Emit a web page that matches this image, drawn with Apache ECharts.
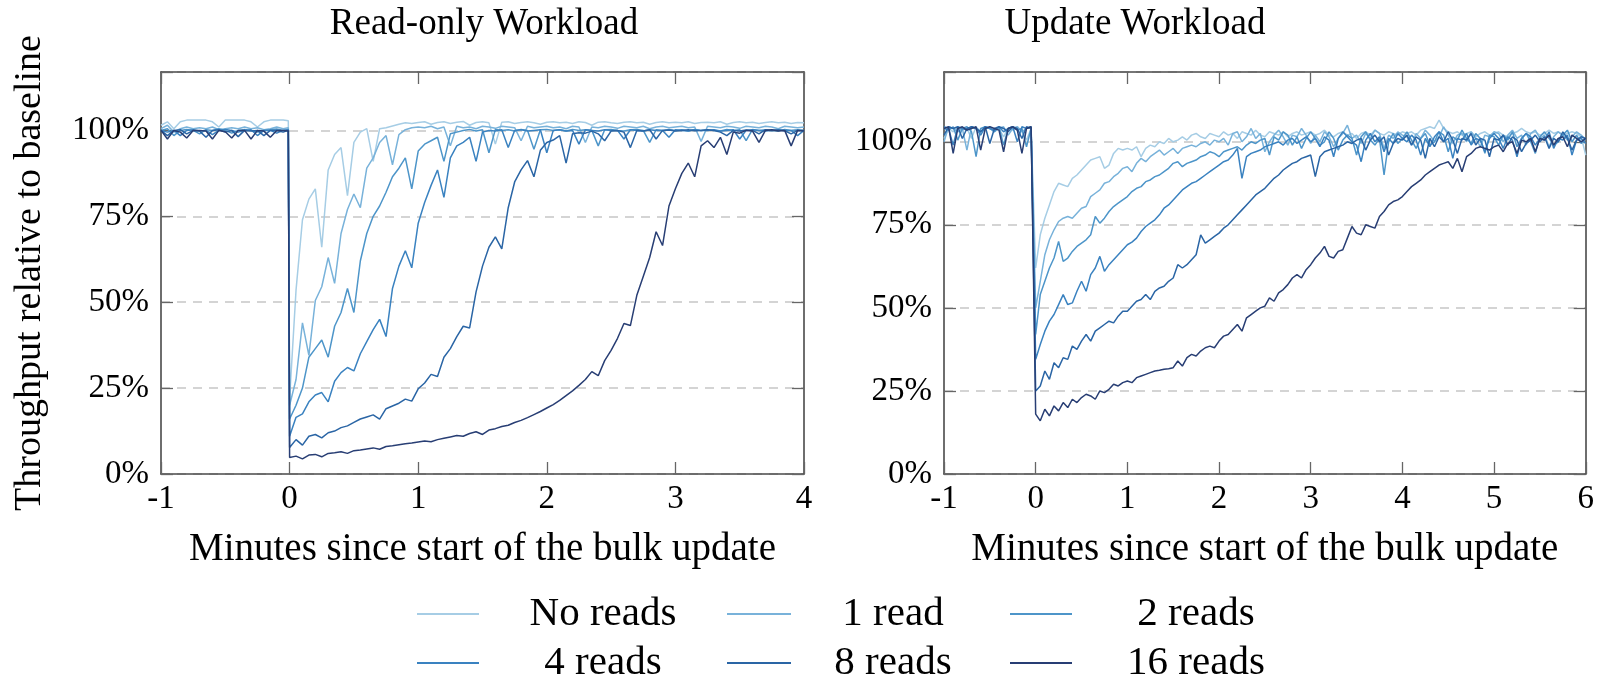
<!DOCTYPE html>
<html>
<head>
<meta charset="utf-8">
<script src="https://cdn.jsdelivr.net/npm/echarts@6/dist/echarts.min.js"></script>
<style>
html,body{margin:0;padding:0;background:#fff;}
#chart{width:1597px;height:678px;}
</style>
</head>
<body>
<div id="chart"></div>
<script>
// ---------------- DATA ----------------
const seriesNames = ['No reads', '1 read', '2 reads', '4 reads', '8 reads', '16 reads'];
const seriesColors = ['#a6cde5', '#78b2da', '#4d95c9', '#3a82c0', '#2a65a5', '#283e74'];
const panelTitles = ['Read-only Workload', 'Update Workload'];
const xAxisTitle = 'Minutes since start of the bulk update';
const yAxisTitle = 'Throughput relative to baseline';
const yTicks = [0, 25, 50, 75, 100];

// sample times (minutes); left panel has an extra sample just before the bulk update starts
const leftTimes = [];
for (let i = 0; i < 20; i++) leftTimes.push(+(-1 + i * 0.05).toFixed(2));
leftTimes.push(-0.01);
for (let i = 0; i <= 80; i++) leftTimes.push(+(i * 0.05).toFixed(2));
const rightTimes = [];
for (let i = 0; i < 20; i++) rightTimes.push(+(-1 + i * 0.05).toFixed(2));
for (let i = 0; i <= 120; i++) rightTimes.push(+(i * 0.05).toFixed(2));

// Read-only workload (% of baseline)
const roNone = [
101.5,102.5,100.5,102.5,103,103,103,103,102.5,101,103,103,103,103,102.5,101,102.5,103,103,103,102.8,
22,53.5,74,80,83,66,88.5,93,95,81,96.5,99.5,100.5,91,100.5,100.8,101.3,101.8,102.2,102,102.3,
102.5,101.8,102.3,102.5,102,102.4,102.6,101.5,102.3,102.5,102.2,96,102.4,102.5,102,102.3,102.5,102.2,101.8,102.4,
102.5,102.2,102.4,102,102.5,102.3,101.5,102.4,102.5,102.2,102,102.4,102.5,102.2,102.4,101.8,102.3,102.5,102.2,102.4,
102.2,102.5,102,102.3,102.4,102.2,102.5,101.8,102.3,102.5,102.2,102.4,102,102.3,102.5,102.2,102.4,102,102.3,102.2];
const roOne = [
100.5,101.5,99.5,100.5,101,100.5,100.8,100.5,101,100.2,100.5,100.8,100.5,101,100.5,100.8,100.2,100.5,101,100.5,100.8,
20,27.5,44,34.5,50.5,54.5,63,55.5,70,77,81.5,77.5,89,92,96.5,98.5,90,98.8,100.2,100.8,101,
100.8,101.2,100.5,101,95.5,101.2,100.8,101,100.5,101.2,101,100.6,101.2,101,100.8,97,101.2,100.8,101,101.2,
100.8,101,100.5,101.2,101,96.5,101,100.8,101.2,101,100.6,101.2,101,100.8,101.2,100.5,101,101.2,100.8,101,
101.2,100.8,101,96.8,101.2,101,100.8,101.2,101,100.6,101.2,101,100.8,101.2,101,100.5,101.2,101,100.8,101];
const roTwo = [
100,100.5,98.5,100,100.3,100,99,100.2,100,100.5,100,99.2,100,100.3,100,99.5,100,100.2,100.4,100,100.3,
16,20,25,34,36.5,39,34,43,47,54,47,62,70,75,78,82,86.5,89,92,83,94,
96,97,98,91,99,99.5,100,100.3,99.8,100.2,93.5,100.3,100,100.2,99.8,100.3,100,94.5,100.2,100.3,
100,100.2,99.8,100.3,100,100.2,100,95.5,100.2,100.3,100,99.8,100.2,100.3,100,96.5,100.2,100,100.3,100,
100.2,99.8,100.3,100,100.2,100,99.8,100.3,100,100.2,97,100.3,100,100.2,100,99.8,100.3,100,100.2,100];
const roFour = [
100,99.5,100,98.5,100,100.2,99.8,100,98.8,100,100.3,100,99.5,100,100.2,98.5,100,100,99.2,100,100.2,
11,16.5,17.5,21,23,23.7,21,27,29.5,31,30,35,38.5,42,45,40,54,60.5,65,60,73,
79,84,88.5,80.5,92,95.5,96.5,98,91,99.5,100,99.8,100.2,95,100,100.2,99.8,100,100.2,93.5,
100,100.2,99.8,100,96,100.2,100,99.8,100.2,100,100,97.5,100.2,100,99.8,100.2,100,100,98,100.2,
100,99.8,100.2,100,100,100.2,99.8,100,100.2,97.5,100,100.2,100,99.8,100,100.2,100,100,98.5,100];
const roEight = [
100,98.5,100,100.2,99,100,99.8,98,100,100.2,99.5,100,98.2,100,99.8,100,98.5,100,100,99.5,100,
7.7,10,8.4,11,11.5,10.5,12,12.5,13.5,14,15,16,16.6,17.2,16,19,19.8,20.6,21.8,21.2,24.8,
26.5,29,28.4,34,36.5,40,43,42.5,53,60.5,66,69,65.5,77.5,85,88.5,91.2,86.5,94.2,96.5,
97.2,98.5,90.5,99,99.3,99.2,99.8,99,97,99.8,100,99.5,95,100,99.8,100.2,97.5,100,100.1,99.8,
100,100.2,99.9,100,100.2,100,99.5,98.5,100,99.8,100.1,100,99,100.2,100,100.1,99.9,99,100,100];
const roSixteen = [
100,97.5,100,99.5,97.8,100,100,99.8,97.5,100,99.6,97.8,100,100,97.5,100,99.8,98,100,100,99.8,
4.8,5.2,4.4,5.5,5.7,5,6,6.2,6.5,6,6.8,7,7.3,7.6,7.2,8,8.2,8.5,8.8,9,9.3,
9.6,9.4,10,10.4,10.8,11.2,11,11.8,12.3,11.5,12.8,13.2,13.8,14.2,15,15.6,16.4,17.3,18.2,19.2,
20.2,21.4,22.8,24.2,25.8,27.5,29.8,28.6,33,36,39.5,43.8,43.2,52,57.5,63,70.5,66.5,78,83,
87.5,90.5,86.5,95.5,97,95,98,93,99.5,99.2,100,99.8,96.5,100,100.2,99.8,100,95.5,100,99.8];

// Update workload (% of baseline)
const upNone = [
101,104,103,104.5,103.5,104,101,104.5,103,104,104.5,103,104,101.5,104,103.5,104.5,103,100.5,104,
62,72,77,81,85,87.5,87,86.5,89,90,91.5,93,94.5,95,95.5,92,93,96.5,98,97.5,98,
97.5,98.5,95.5,98,99,98.5,100,99.5,101,100,100.5,101.5,100.5,102,102.5,101.5,101,102.5,102,101.5,
103,102,102.5,101,103,102.5,102,103.5,102,101.5,103,102.5,102,103,101.5,102.5,103,102,102.5,103,
102,102.5,103.5,102,101.5,102.5,103,102,102.5,101,102.5,103,102,103.5,102.5,102,103,102.5,102,103,
102.5,103,102,103.5,104,104.5,104,106.5,104,103,102.5,103,102,102.5,103,101.5,102.5,103,102,102.5,
103,102,101.5,102.5,103,104,103,102.5,103,102,102.5,103.5,102.5,103,102,102.5,103,102.5,101.5,96];
const upOne = [
100,104.5,104,103,104,97.5,104.5,104,103,104.5,104,103.5,104,104.5,102,104,104.5,103,104,104.5,
50,58,66,70.5,73.5,76,77,77.5,77,78.5,80,80.5,83.5,84.5,85.5,87.5,88,89.5,90.5,92,92.5,
91,93.5,95,94,95.5,96.5,97.5,96,97,98,96.5,98,98.5,99,98.5,99.5,100,99,100.5,100,
101,99,102.5,103,100,101.5,104,101,102.5,97,100,102,103.5,101.5,99,102,101.5,104,102,99.5,
102,100,103,101.5,98.5,101,102.5,105,101,102,99.5,102.5,101,103.5,102.5,98,102,101,103,102,
101.5,99,102.5,101,103.5,102,100,101.5,104.5,102,99.5,102,102.5,100,103,101,98.5,102,101.5,103,
102.5,100,102,103.5,101,102,99,102.5,103.5,101,102,98.5,101.5,103,102,100.5,101.5,103,102,100.5];
const upTwo = [
104,103.5,104.5,100.5,104,104.5,103,95.5,104,104.5,104,103,104.5,99,104,104.5,103.5,104,98.5,104,
42,54,58,62,65,70,64,65,67,68.5,69.5,70.5,72,77.5,75.5,77,79,80.5,81.5,82.5,83.5,
85,86,86.5,88,88.5,89.5,90,91,92,93.5,94,92.5,93.5,94,94.5,95.5,96,97,96.5,95.5,
97,97.5,98,98.5,97.5,99,100,99.5,100.5,101,96,101.5,100.5,103,102,99,101.5,98,101,103,
101,99,100,103,101,97.5,100.5,102,101,96,101.5,103,100.5,99,101,90,100,102.5,99.5,101,
103,100.5,98,101,102.5,99,100,103,102,97,101.5,100.5,103.5,101,99.5,102.5,101,96.5,102,101.5,
99,102,100.5,103,98.5,101,102.5,100,96.5,101.5,103,101,99,100,102,103.5,100,102,99.5,101];
const upFour = [
104.5,104,99,104.5,104,103.5,104.5,104,102,104.5,104,103.5,104.5,103,104,104.5,100,104.5,104,104.5,
34.5,39,43,46,48,51,54,51,51.5,55,58,55,60,62,65.5,61,63,64.5,66,67.5,69,
69.8,71,73,74.5,75.5,76.5,78,80,81,82.5,84,85.5,86.5,87.5,88,89,90,91,92,93,
94,94.5,96,98,89,95.5,96.5,97,97.5,98.5,99,99.5,100,99,100.5,101,99.5,100.5,101.5,100,
101,98.5,101.5,100.5,95.5,101,103,101.5,100,99,94,100.5,102.5,100,101.5,97,101,99.5,102.5,101,
100,102,100.5,96,101,98.5,101.5,103,100,101,95,101,100.5,102.5,99,101,100.5,97,101,102.5,
101,98,101.5,100.5,95.5,101,102.5,101.5,99,101,100.5,103,98,101,100.5,102,96,100.5,101,99.5];
const upEight = [
102,104.5,104,104.5,101,104,104.5,104,103,104.5,99.5,104,104.5,104,103,104.5,104,101,104.5,104,
25,26.5,31,28.5,33.5,32,35,34.5,38.5,37.5,40,42,40,43,44,45,46,45.5,47.5,49,49,
50.5,52,52.5,54,52.5,55,56,56.5,58,59,63,62,63,64.5,66,72,69.5,70.5,71.5,72.5,
74,75,76.5,78,79.5,81,82.5,84,85,86,87.5,89,90,91.5,92.5,93.5,94,95,95.5,96,
89.5,95.5,97,97.5,98,98.5,99,100,99.5,100.5,101,97.5,100.5,102,100,101.5,96,99.5,101,100.5,
102,99,101.5,100.5,95,101,98.5,101.5,100,103,100.5,96.5,101,100.5,102.5,99,101,100.5,95.5,101,
100.5,102,99,101.5,100.5,97,99.5,100.5,102,100,101.5,98,101,100,103,101,97.5,100.5,101.5,101];
const upSixteen = [
104,104.5,96.5,104,104.5,103.5,104,104.5,97.5,104,104.5,104,103.5,97,104,104.5,103.5,96.5,104,104.5,
18,16,19.5,17.5,20.5,19,21.5,20,22.5,21.5,23,24,23.5,22.5,25,24.5,25.5,27,26.5,27.5,28,
27.5,29,29.5,30,30.5,31,31.2,31.5,31.7,32,34,32.5,35,36,35.5,37,38,38.5,38,40,
41.5,42,43.5,45,43,47,48,49,50,50.5,53,52,54.5,55.5,57,59,60,59,61.5,63,
65,66.5,68.5,65.5,65,67,67.5,71,74.5,72.5,72,75,74.5,74,77.5,79,81,82,82.5,83.5,
85,86.5,87.5,88.5,90,91,92,93,93.5,94,92,95,91,95.5,96.5,98,98.5,98,97.5,98.5,
99,97,99.5,100,96.5,100.5,100,101,97,101,100.5,102,99,101,101.5,98.5,102,101,100,101];

const leftValues = [roNone, roOne, roTwo, roFour, roEight, roSixteen];
const rightValues = [upNone, upOne, upTwo, upFour, upEight, upSixteen];

// ---------------- CHART ----------------
const FONT = "'Liberation Serif', 'DejaVu Serif', serif";
const frameColor = '#4a4a4a';
const grids = [
  {left: 161, top: 72, width: 643, height: 402},
  {left: 944, top: 72, width: 643, height: 402}
];
const xRanges = [[-1, 4], [-1, 6]];
const yMaxes = [117, 121];

function xAxes(gi) {
  const base = {
    gridIndex: gi, type: 'value', min: xRanges[gi][0], max: xRanges[gi][1], interval: 1,
    axisLine: {show: true, onZero: false, lineStyle: {color: frameColor, width: 1.6}},
    axisTick: {show: true, inside: true, length: 12, lineStyle: {color: '#666', width: 1.3}},
    splitLine: {show: false}
  };
  return [
    Object.assign({}, base, {
      position: 'bottom',
      axisLabel: {show: true, color: '#000', fontFamily: FONT, fontSize: 33, margin: 9,
                  formatter: v => String(v)},
      name: xAxisTitle, nameLocation: 'middle', nameGap: 56,
      nameTextStyle: {color: '#000', fontFamily: FONT, fontSize: 39}
    }),
    Object.assign({}, base, {position: 'top', axisLabel: {show: false}})
  ];
}
function yAxes(gi) {
  const base = {
    gridIndex: gi, type: 'value', min: 0, max: yMaxes[gi], interval: 25,
    axisLine: {show: true, onZero: false, lineStyle: {color: frameColor, width: 1.6}},
    axisTick: {show: true, inside: true, length: 12, lineStyle: {color: '#666', width: 1.3}}
  };
  const left = Object.assign({}, base, {
    position: 'left',
    axisLabel: {show: true, color: '#000', fontFamily: FONT, fontSize: 33, margin: 12,
                formatter: v => (yTicks.indexOf(v) >= 0 ? v + '%' : '')},
    splitLine: {show: true, lineStyle: {color: '#c6c6c6', width: 1.5, type: [9, 7]}}
  });
  if (gi === 0) {
    Object.assign(left, {
      name: yAxisTitle, nameLocation: 'middle', nameGap: 112, nameRotate: 90,
      nameTextStyle: {color: '#000', fontFamily: FONT, fontSize: 38}
    });
  }
  return [left, Object.assign({}, base, {position: 'right', axisLabel: {show: false}, splitLine: {show: false}})];
}

const series = [];
[leftTimes, rightTimes].forEach((times, gi) => {
  const vals = gi === 0 ? leftValues : rightValues;
  vals.forEach((arr, si) => {
    series.push({
      type: 'line', name: seriesNames[si],
      xAxisIndex: gi * 2, yAxisIndex: gi * 2,
      data: times.map((t, i) => [t, arr[i]]),
      showSymbol: false, symbol: 'none',
      lineStyle: {color: seriesColors[si], width: 1.5},
      itemStyle: {color: seriesColors[si]},
      clip: true, silent: true, z: 2 + si
    });
  });
});

// legend drawn as graphic (two rows of three)
const legendCols = [{x0: 417, x1: 479, tx: 603}, {x0: 727, x1: 791, tx: 893}, {x0: 1010, x1: 1072, tx: 1196}];
const legendRows = [614, 663];
const graphic = [];
seriesNames.forEach((nm, i) => {
  const r = Math.floor(i / 3), c = i % 3;
  const col = legendCols[c], y = legendRows[r];
  graphic.push({type: 'line', shape: {x1: col.x0, y1: y, x2: col.x1, y2: y},
                style: {stroke: seriesColors[i], lineWidth: 1.8}});
  graphic.push({type: 'text', x: col.tx, y: y,
                style: {text: nm, fill: '#000', font: '41px ' + FONT, textAlign: 'center', textVerticalAlign: 'middle'}});
});

const option = {
  animation: false,
  backgroundColor: '#fff',
  title: [
    {text: panelTitles[0], left: 484, top: 6, textAlign: 'center', padding: 0,
     textStyle: {fontFamily: FONT, fontSize: 37, fontWeight: 'normal', color: '#000'}},
    {text: panelTitles[1], left: 1135, top: 6, textAlign: 'center', padding: 0,
     textStyle: {fontFamily: FONT, fontSize: 37, fontWeight: 'normal', color: '#000'}}
  ],
  grid: grids,
  xAxis: [...xAxes(0), ...xAxes(1)],
  yAxis: [...yAxes(0), ...yAxes(1)],
  series: series,
  graphic: graphic
};

const chart = echarts.init(document.getElementById('chart'), null, {renderer: 'canvas'});
chart.setOption(option);
</script>
</body>
</html>
